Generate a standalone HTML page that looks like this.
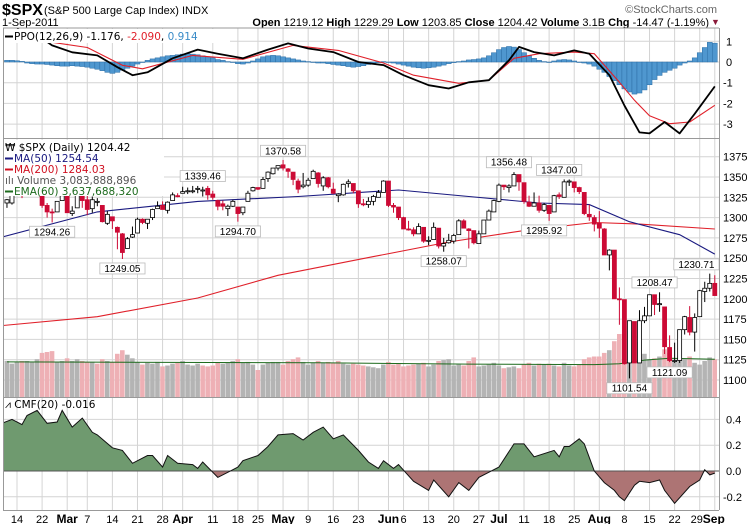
<!DOCTYPE html>
<html><head><meta charset="utf-8"><style>
html,body{margin:0;padding:0;background:#fff;}
svg{display:block;font-family:"Liberation Sans",Arial,sans-serif;}
.lg{font-family:"DejaVu Sans","Liberation Sans",sans-serif;}
</style></head><body>
<svg id="chart" width="755" height="524" viewBox="0 0 755 524" xmlns="http://www.w3.org/2000/svg">
<defs>
<clipPath id="cpPPO"><rect x="3" y="28" width="716" height="110"/></clipPath>
<clipPath id="cpPrice"><rect x="3" y="139" width="716" height="258"/></clipPath>
<clipPath id="cpCMFpos"><rect x="3" y="398" width="716" height="73"/></clipPath>
<clipPath id="cpCMFneg"><rect x="3" y="471" width="716" height="39"/></clipPath>
</defs>
<text x="2" y="15" font-size="16" font-weight="bold">$SPX</text>
<text x="44" y="14" font-size="11">(S&amp;P 500 Large Cap Index)  INDX</text>
<text x="2" y="26" font-size="11">1-Sep-2011</text>
<text x="709" y="26" font-size="11" text-anchor="end"><tspan font-weight="bold">Open</tspan> 1219.12 <tspan font-weight="bold">High</tspan> 1229.29 <tspan font-weight="bold">Low</tspan> 1203.85 <tspan font-weight="bold">Close</tspan> 1204.42 <tspan font-weight="bold">Volume</tspan> 3.1B <tspan font-weight="bold">Chg</tspan> -14.47 (-1.19%)</text>
<text x="711" y="25" font-size="9" fill="#8b1a3a">▼</text>
<text x="717" y="13" font-size="11" fill="#666" text-anchor="end">©StockCharts.com</text>
<g id="layer"></g>
</svg>
<script>
// ---------- data ----------
const firstIdx = -2;
const opens = [1318,1318,1329,1330,1329,1334,1341,1338,1315,1307,1307,1321,1328,1305,1312,1331,1322,1311,1320,1315,1293,1301,1288,1280,1262,1276,1281,1298,1293,1300,1311,1315,1309,1321,1327,1330,1333,1332,1335,1334,1336,1329,1321,1317,1311,1314,1313,1306,1320,1333,1337,1336,1348,1354,1361,1365,1360,1356,1345,1338,1340,1348,1355,1339,1349,1335,1327,1328,1342,1342,1333,1317,1316,1320,1325,1331,1345,1315,1313,1300,1286,1285,1280,1288,1272,1273,1287,1265,1269,1271,1279,1296,1286,1284,1268,1280,1297,1307,1320,1340,1337,1339,1353,1343,1319,1314,1318,1309,1315,1307,1328,1325,1344,1344,1337,1331,1304,1300,1293,1286,1254,1260,1200,1199,1121,1172,1121,1173,1179,1205,1193,1190,1140,1124,1124,1162,1177,1159,1178,1209,1213,1219];
const highs = [1323,1331,1333,1331,1337,1341,1344,1338,1318,1311,1320,1330,1332,1314,1332,1331,1327,1326,1324,1315,1308,1301,1289,1281,1276,1289,1300,1299,1298,1311,1320,1320,1320,1331,1330,1338,1337,1339,1339,1338,1339,1333,1322,1321,1316,1322,1313,1313,1333,1338,1337,1350,1357,1361,1364,1371,1361,1356,1348,1355,1349,1359,1356,1351,1350,1343,1330,1342,1347,1342,1333,1323,1325,1328,1334,1346,1345,1318,1313,1301,1296,1288,1293,1288,1277,1294,1287,1275,1280,1280,1298,1298,1287,1284,1284,1297,1310,1322,1342,1340,1341,1356,1353,1343,1327,1331,1327,1318,1315,1328,1331,1347,1347,1344,1338,1331,1316,1303,1308,1287,1261,1260,1214,1199,1173,1172,1186,1190,1205,1205,1208,1190,1155,1146,1162,1179,1191,1182,1211,1221,1231,1229];
const lows = [1312,1316,1328,1324,1328,1333,1338,1312,1300,1294,1307,1321,1306,1302,1312,1312,1303,1306,1314,1294,1291,1286,1261,1249,1262,1275,1281,1292,1286,1297,1311,1310,1305,1321,1325,1330,1329,1330,1330,1326,1322,1322,1309,1309,1302,1313,1295,1303,1320,1332,1334,1336,1344,1353,1358,1358,1349,1340,1330,1336,1338,1348,1337,1333,1336,1329,1319,1327,1337,1330,1312,1314,1312,1315,1325,1331,1313,1306,1297,1286,1284,1277,1280,1269,1266,1273,1262,1258,1268,1268,1279,1287,1262,1267,1268,1280,1297,1307,1319,1334,1331,1339,1333,1317,1313,1314,1306,1307,1296,1307,1323,1325,1339,1331,1329,1303,1296,1283,1275,1254,1235,1200,1168,1119,1102,1121,1121,1170,1179,1180,1184,1132,1122,1121,1121,1156,1155,1135,1178,1196,1209,1204];
const closes = [1322,1329,1332,1328,1336,1340,1343,1315,1307,1306,1320,1327,1306,1308,1331,1321,1310,1322,1320,1295,1304,1296,1282,1257,1274,1279,1298,1294,1298,1310,1314,1310,1319,1328,1326,1332,1333,1333,1336,1334,1328,1325,1314,1314,1314,1320,1305,1313,1330,1337,1335,1347,1356,1361,1364,1361,1357,1347,1335,1340,1346,1357,1342,1349,1338,1330,1329,1341,1344,1333,1317,1316,1320,1326,1331,1345,1315,1313,1300,1286,1285,1280,1289,1271,1272,1288,1265,1268,1272,1278,1296,1287,1284,1269,1280,1297,1308,1321,1340,1338,1339,1353,1344,1320,1314,1318,1309,1316,1305,1327,1326,1344,1345,1337,1332,1305,1301,1292,1287,1254,1260,1200,1199,1120,1173,1121,1173,1179,1205,1193,1194,1141,1124,1124,1162,1178,1159,1177,1210,1213,1219,1204];
const volumes = [4.0,3.7,3.9,4.0, 4.0,3.9,4.2,4.9,5.0,5.1, 3.9,4.0,4.3,4.0,4.2,4.0, 3.9,3.9,3.7,4.2,4.0,3.9,4.8, 5.2,4.7,4.3,3.9,3.6,3.8, 3.7,3.9,3.4,3.5,3.7,3.8,4.0, 3.6,3.5,3.7,3.5,3.4,3.5,3.8,3.7, 3.8,4.0,4.2,3.8,3.9,3.6,3.0,3.6, 3.8,3.9,3.9,3.6,4.0,4.2,4.4,3.9, 3.6,3.8,4.0,3.8,3.9,3.8,4.0,3.7, 3.6,3.7,3.6,3.5,3.4,3.3,3.2,3.6, 3.9,3.6,3.7,3.4,3.5,3.6,3.7,3.8, 3.4,3.6,4.0,4.1,4.2,3.5,3.6,3.5, 4.0,4.4,3.4,3.5,3.6,3.8,3.5,3.2, 3.3,3.4,3.2,3.6,3.8,3.5,3.7,3.6, 3.7,3.5,3.4,3.8,3.5,3.4,3.6,4.2, 4.4,4.5,4.5,4.9,5.2,6.2,7.0,7.9, 7.3,6.8,6.1,4.8,4.2,4.3,4.5,5.3, 4.9,4.0,4.6,4.2,4.5,3.8, 3.6,4.0,4.4,4.2];
const volEmaIdx = [-2,30,60,90,115,120,125,130,139];
const volEmaVal = [3.9,3.85,3.8,3.65,3.6,3.7,4.1,4.3,4.2];
const ma50Idx = [-3,16,36,56,71,76,90,104,114,122,132,139];
const ma50Val = [1276,1307,1320,1326,1332,1334,1326,1318,1316,1295,1279,1255];
const ma200Idx = [-3,16,36,52,71,86,102,115,124,139];
const ma200Val = [1167,1178,1201,1229,1252,1270,1285,1294,1292,1286];
const ppoIdx = [0,3,5,7,11,16,20,23,26,31,36,40,45,50,54,58,63,68,73,77,82,86,90,94,98,100,103,107,111,114,118,121,124,126,129,132,135,139];
const ppoVal = [1.6,1.3,1.14,0.8,0.47,0.32,-0.25,-0.64,-0.5,0.18,0.6,0.4,0.18,0.6,0.9,0.65,0.48,0.0,-0.15,-0.64,-1.12,-1.28,-0.98,-0.88,0.08,0.73,0.48,0.32,0.56,0.4,-0.64,-2.1,-3.4,-3.45,-2.9,-3.45,-2.5,-1.18];
const sigIdx = [7,14,21,25,35,45,55,64,73,79,88,94,99,104,111,115,120,123,126,130,134,139];
const sigVal = [0.95,0.7,-0.16,-0.33,0.32,0.13,0.8,0.56,-0.05,-0.64,-1.03,-0.88,0.18,0.4,0.48,0.4,-0.98,-1.85,-2.6,-2.98,-2.9,-2.09];
const ppoHist = [0.08,0.08,0.06,0.03, -0.05,-0.08,-0.1,-0.1,-0.12,-0.15, -0.18,-0.2,-0.2,-0.18,-0.2,-0.22,-0.25, -0.3,-0.35,-0.42,-0.5,-0.55,-0.5, -0.4,-0.3,-0.2,-0.1,0.0, 0.08,0.15,0.2,0.25,0.3,0.32, 0.35,0.38,0.4,0.38,0.35,0.3,0.25, 0.2,0.12,0.08,0.02,-0.02, -0.08,-0.1,-0.05,0.05,0.15,0.25, 0.3,0.32,0.3,0.25,0.2,0.15, 0.1,0.05,0.02,-0.02,-0.05,-0.05,-0.08, -0.12,-0.15,-0.18,-0.22,-0.25,-0.22,-0.18, -0.12,-0.08,-0.03,0.02,0.0, -0.05,-0.1,-0.15,-0.2,-0.25,-0.28,-0.3, -0.28,-0.25,-0.2,-0.15,-0.08,-0.03,0.02, 0.05,0.1,0.12,0.15,0.2,0.3, 0.45,0.6,0.7,0.75,0.72,0.6,0.45, 0.3,0.18,0.08,0.02,0.0,0.05, 0.1,0.12,0.1,0.05,0.0,-0.05, -0.1,-0.2,-0.35,-0.5,-0.7,-0.9, -1.1,-1.3,-1.45,-1.55,-1.5,-1.35, -1.1,-0.85,-0.65,-0.5,-0.4,-0.3, -0.15,-0.05,0.05,0.2, 0.45,0.7,0.95,0.91];
const cmfIdx = [-3,-1,1,2,4,6,8,9,11,13,15,16,19,21,23,26,27,29,30,32,35,36,37,40,43,44,45,48,50,52,55,57,59,61,63,65,68,70,72,73,75,76,79,82,83,86,88,90,92,96,99,101,103,107,108,109,110,112,113,115,117,119,120,121,123,124,126,128,129,131,134,136,137,138,139];
const cmfVal = [0.37,0.40,0.36,0.43,0.47,0.37,0.38,0.47,0.34,0.41,0.30,0.28,0.18,0.16,0.06,0.12,0.12,0.03,0.12,0.06,0.05,0.02,0.07,-0.05,0.01,0.03,0.08,0.12,0.19,0.28,0.29,0.24,0.30,0.34,0.25,0.28,0.16,0.07,0.02,0.08,0.02,0.05,-0.08,-0.15,-0.07,-0.2,-0.09,-0.15,-0.05,0.03,0.21,0.21,0.11,0.16,0.11,0.19,0.19,0.25,0.21,0.0,-0.09,-0.15,-0.2,-0.23,-0.11,-0.08,-0.09,-0.07,-0.15,-0.25,-0.12,-0.07,0.01,-0.03,-0.016];
const annIdx = [7,21,37,44,53,85,98,108,105,122,127,130,137];
const annVal = [1294.26,1249.05,1339.46,1294.70,1370.58,1258.07,1356.48,1347.00,1295.92,1101.54,1208.47,1121.09,1230.71];
const annHigh = [false,false,true,false,true,false,true,true,false,false,true,false,true];
const xTickIdx = [0,5,10,14,19,24,29,33,39,44,48,53,58,63,68,74,77,82,87,92,96,101,106,111,116,121,126,131,136,139];
const xTickText = ['14','22','Mar','7','14','21','28','Apr','11','18','25','May','9','16','23','Jun','6','13','20','27','Jul','11','18','25','Aug','8','15','22','29','Sep'];
const priceTicks = [1100,1125,1150,1175,1200,1225,1250,1275,1300,1325,1350,1375];
const ppoTicks = [1,0,-1,-2,-3];
const cmfTicks = [0.4,0.2,0.0,-0.2];

// ---------- scales ----------
const NS='http://www.w3.org/2000/svg';
const root=document.getElementById('layer');
function mk(tag,a,parent){const e=document.createElementNS(NS,tag);for(const k in a)e.setAttribute(k,a[k]);(parent||root).appendChild(e);return e;}
const L=3,R=719;
function xs(i){return 17+5.02*i;}
function yP(p){return 156.7+(1375-p)*0.812;}
function yPPO(v){return 62-v*20.7;}
function yCMF(v){return 471-v*129;}
function yVol(v){return 397-v*9;}
function pts(ix,vals,fy){return ix.map((d,k)=>xs(d).toFixed(1)+','+fy(vals[k]).toFixed(1)).join(' ');}

// ---------- grid ----------
const grid=mk('g',{});


xTickIdx.forEach((d,k)=>{
  const ln=mk('line',{x1:xs(d),x2:xs(d),y1:28,y2:510,stroke:'#d4d4d4','stroke-width':1},grid);
  
  
  const bold=isNaN(+xTickText[k]);
  let tx=xs(d);
  if(xTickText[k]==='Sep') tx=xs(d)-1;
  if(k===28) tx=xs(d)-3;
  const t=mk('text',{x:tx,y:523,'font-size':bold?12:11,'font-weight':bold?'bold':'normal','text-anchor':'middle'},root);
  t.textContent=xTickText[k];
  
  
});
priceTicks.forEach(p=>{
  const ln=mk('line',{x1:L,x2:R,y1:yP(p),y2:yP(p),stroke:'#d4d4d4'},grid);
  
  
  const t=mk('text',{x:723,y:yP(p)+4,'font-size':11});
  t.textContent=p;
  
  
});
ppoTicks.forEach(v=>{
  const ln=mk('line',{x1:L,x2:R,y1:yPPO(v),y2:yPPO(v),stroke:'#d4d4d4'},grid);
  
  
  const t=mk('text',{x:v<0?723:726,y:yPPO(v)+4,'font-size':11});
  t.textContent=v;
  
  
});
cmfTicks.forEach(v=>{
  const ln=mk('line',{x1:L,x2:R,y1:yCMF(v),y2:yCMF(v),stroke:v===0?'#777':'#d4d4d4'},grid);
  
  
  const t=mk('text',{x:v<0?723:726,y:yCMF(v)+4,'font-size':11});
  t.textContent=v.toFixed(1);
  
  
});

// ---------- PPO ----------
const ppoG=mk('g',{'clip-path':'url(#cpPPO)'});


ppoHist.forEach((v,k)=>{
  const i=k+firstIdx, y0=yPPO(0), y1=yPPO(v);
  const r=mk('rect',{x:xs(i)-2.5,y:Math.min(y0,y1),width:5.02,height:Math.max(0.5,Math.abs(y1-y0)),fill:'#4f97cf',stroke:'#2c6ea6','stroke-width':0.5},ppoG);
  
  
});
const sigLine=mk('polyline',{points:pts(sigIdx,sigVal,yPPO),fill:'none',stroke:'#e0202a','stroke-width':1.1,'stroke-linejoin':'round'},ppoG);


const ppoLine=mk('polyline',{points:pts(ppoIdx,ppoVal,yPPO),fill:'none',stroke:'#000','stroke-width':1.8,'stroke-linejoin':'round'},ppoG);



// ---------- Price ----------
const pG=mk('g',{'clip-path':'url(#cpPrice)'});


volumes.forEach((v,k)=>{
  const i=k+firstIdx;
  const prev=k>0?closes[k-1]:opens[k];
  const r=mk('rect',{x:xs(i)-2.4,y:yVol(v),width:4.6,height:397-yVol(v),fill:closes[k]<prev?'#eeb0b5':'#b4b4b4'},pG);
  
  
});
const vEma=mk('polyline',{points:pts(volEmaIdx,volEmaVal,yVol),fill:'none',stroke:'#1d6b1d','stroke-width':1},pG);


const m200=mk('polyline',{points:pts(ma200Idx,ma200Val,yP),fill:'none',stroke:'#e0202a','stroke-width':1.1},pG);


const m50=mk('polyline',{points:pts(ma50Idx,ma50Val,yP),fill:'none',stroke:'#1a1a80','stroke-width':1.1},pG);


closes.forEach((c,k)=>{
  const i=k+firstIdx,o=opens[k],x=xs(i);
  const down=c<o;
  const col=down?'#cc0a35':'#000';
  const w=mk('line',{x1:x,x2:x,y1:yP(highs[k]),y2:yP(lows[k]),stroke:col,'stroke-width':1},pG);
  
  
  const yt=yP(Math.max(o,c)),yb=yP(Math.min(o,c));
  const b=mk('rect',{x:x-2,y:yt,width:4,height:Math.max(1,yb-yt),fill:down?'#cc0a35':'#fff',stroke:col,'stroke-width':0.8},pG);
  
  
});
annVal.forEach((v,k)=>{
  const txt=v.toFixed(2);
  const bw=txt.length*5.6+6;
  let cx=xs(annIdx[k]);
  cx=Math.min(cx,R-bw/2);
  const y=annHigh[k]?yP(v)-15:yP(v)+4;
  const g=mk('g',{});
  
  
  mk('rect',{x:cx-bw/2,y:y,width:bw,height:11,fill:'#fff',stroke:'#bbb','stroke-width':0.8},g);
  const t=mk('text',{x:cx,y:y+9,'font-size':10,'text-anchor':'middle'},g);
  t.textContent=txt;
});

// ---------- CMF ----------
const cG=mk('g',{});


const area=xs(cmfIdx[0])+','+yCMF(0)+' '+pts(cmfIdx,cmfVal,yCMF)+' '+xs(cmfIdx[cmfIdx.length-1])+','+yCMF(0);
const pos=mk('polygon',{points:area,fill:'#6f9a6f','clip-path':'url(#cpCMFpos)'},cG);


const neg=mk('polygon',{points:area,fill:'#ad7474','clip-path':'url(#cpCMFneg)'},cG);


const zl=mk('line',{x1:L,x2:R,y1:yCMF(0),y2:yCMF(0),stroke:'#555'},cG);


const cl=mk('polyline',{points:pts(cmfIdx,cmfVal,yCMF),fill:'none',stroke:'#111','stroke-width':1,'clip-path':'url(#cpCMFpos)'},cG);


const cl2=mk('polyline',{points:pts(cmfIdx,cmfVal,yCMF),fill:'none',stroke:'#111','stroke-width':1,'clip-path':'url(#cpCMFneg)'},cG);



// ---------- frames ----------
[[28],[138.5],[397.5],[510.5]].forEach(a=>{
  const ln=mk('line',{x1:L,x2:R,y1:a[0],y2:a[0],stroke:'#999'});
  
  
});
const lb=mk('line',{x1:L+0.5,x2:L+0.5,y1:28,y2:510,stroke:'#999'});


const rb=mk('line',{x1:R+0.5,x2:R+0.5,y1:28,y2:510,stroke:'#999'});



// ---------- legends ----------
const pbg=mk('rect',{x:4,y:29,width:226,height:14,fill:'#fff'});


const lbg=mk('rect',{x:4,y:140,width:160,height:56,fill:'#fff'});


function legend(name,x,y,html,swatch){
  const g=mk('g',{'class':'lg'});
  
  
  if(swatch) mk('rect',{x:x,y:y-4.5,width:8,height:2,fill:swatch},g);
  const t=mk('text',{x:x+(swatch?9:0),y:y,'font-size':10.5},g);
  t.innerHTML=html;
}
legend('ppo-legend',5,40,'PPO(12,26,9) -1.176, <tspan fill="#e0202a">-2.090</tspan>, <tspan fill="#3a8cc8">0.914</tspan>','#000');
legend('price-legend',5,151,'<tspan fill="#000">₩ $SPX (Daily) 1204.42</tspan>',null);
legend('ma50-legend',5,162,'<tspan fill="#1a1a80">MA(50) 1254.54</tspan>','#1a1a80');
legend('ma200-legend',5,173,'<tspan fill="#d01020">MA(200) 1284.03</tspan>','#d01020');
legend('volume-legend',5,184,'<tspan fill="#555">ılı Volume 3,083,888,896</tspan>',null);
legend('volume-ema-legend',5,195,'<tspan fill="#1d6b1d">EMA(60) 3,637,688,320</tspan>','#1d6b1d');
legend('cmf-legend',5,408,'⩘ CMF(20) -0.016',null);
</script>
</body></html>
